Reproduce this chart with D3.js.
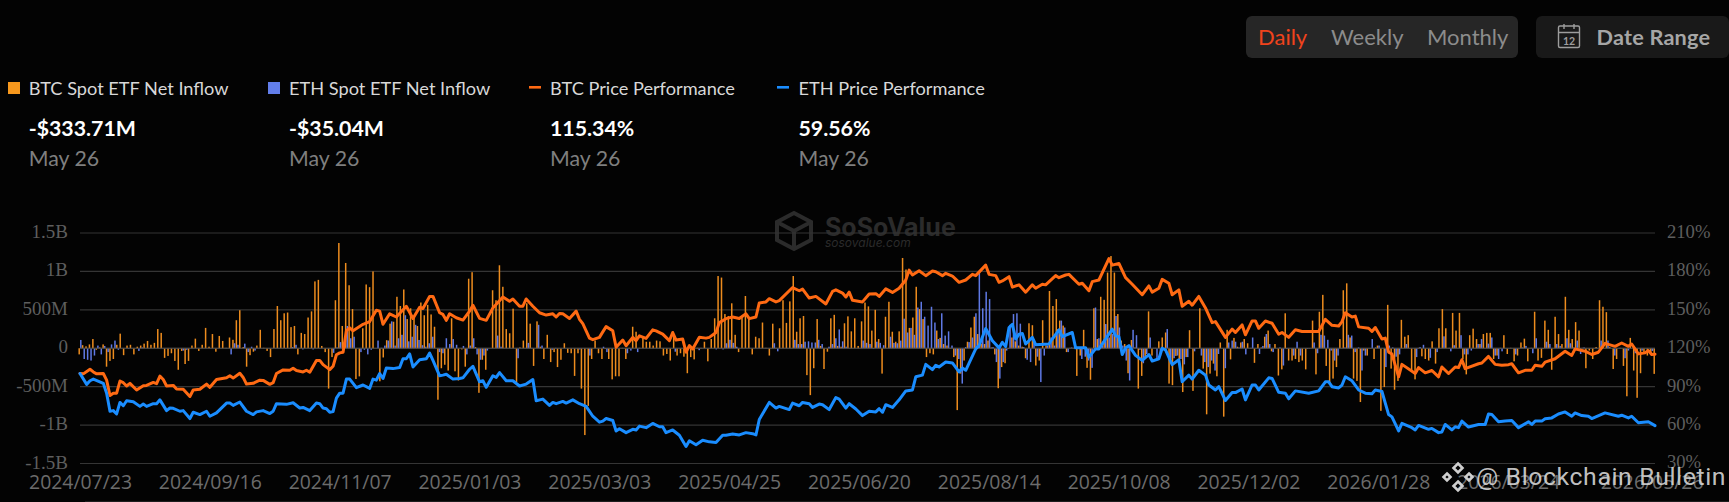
<!DOCTYPE html>
<html><head><meta charset="utf-8">
<script src="https://cdn.jsdelivr.net/npm/d3@7"></script>
<style>html,body{margin:0;padding:0;background:#030303;width:1729px;height:502px;overflow:hidden}svg{display:block}</style>
</head><body><svg id="c" width="1729" height="502"></svg>
<script>
const leftTicks=[-1500,-1000,-500,0,500,1000,1500];
const leftLabels=["-1.5B","-1B","-500M","0","500M","1B","1.5B"];
const rightTicks=[30,60,90,120,150,180,210];
const rightLabels=["30%","60%","90%","120%","150%","180%","210%"];
const dateDays=[0,38,76,114,152,190,228,266,304,342,380,418,460];
const dateLabels=["2024/07/23","2024/09/16","2024/11/07","2025/01/03","2025/03/03","2025/04/25","2025/06/20","2025/08/14","2025/10/08","2025/12/02","2026/01/28","2026/03/24","2026/05/26"];

// BTC spot ETF net inflow, $M, one per trading day
const btcFlow=[
-80,40,25,50,120,-20,10,50,-240,-165,-140,45,190,-90,35,45,-80,20,35,60,95,45,70,250,200,-125,-100,-65,-165,-280,-35,-205,-165,35,125,-35,45,265,20,185,-45,160,95,5,140,110,365,495,15,-240,-90,-45,35,240,5,-35,-115,250,550,365,455,465,275,290,-80,200,185,400,480,870,890,30,-50,-525,-115,625,1370,
290,1110,820,510,-400,-366,260,830,795,1000,0,-430,-120,105,320,345,670,550,765,380,520,415,290,595,430,565,440,280,-670,-260,-215,-290,390,-300,-420,-15,-240,905,990,15,-580,-150,-280,0,755,625,1080,800,250,195,515,-440,10,100,585,320,-230,350,20,-140,175,-180,-50,-245,-150,65,-60,-65,-360,-65,-525,-1130,-750,-140,100,-65,-140,
-10,-140,-405,-365,-365,5,-140,5,280,215,5,150,85,85,35,100,90,-95,-75,-160,175,-95,-65,-110,-325,-115,-145,5,5,85,-170,120,390,940,920,445,420,585,175,-50,415,680,380,-80,150,130,335,5,-95,320,5,260,625,330,610,940,215,390,420,-350,-610,-260,380,30,-270,-45,390,435,30,20,325,415,220,390,30,350,595,
545,230,500,120,-330,410,605,215,85,220,1175,1025,265,400,800,510,380,-115,-65,-80,230,135,55,35,5,-115,-805,-330,-160,85,270,410,185,60,55,100,10,-80,-520,-245,-195,-10,140,90,35,20,-130,325,300,-225,-160,365,35,745,550,640,360,295,-50,5,5,-360,-95,240,-255,-410,520,120,670,630,985,1200,985,445,100,55,-325,
108,10,-525,-360,-115,480,-95,5,90,140,205,-460,-480,-100,-140,-570,-115,235,-555,5,520,-265,-860,-330,-200,-365,75,-890,240,-145,135,20,75,120,65,5,-190,55,10,150,230,-40,55,-355,-275,455,-160,-160,-140,-180,-160,-275,-5,360,-340,475,695,-230,-450,-395,-245,120,755,845,140,-395,-425,-700,-30,-95,-5,-140,35,-815,-505,565,
-265,-540,-425,370,150,170,-290,-405,5,-105,-140,-160,90,-200,260,510,260,5,460,230,460,-140,-340,170,255,120,55,185,200,200,-140,-95,5,170,-75,5,-170,-95,75,125,-170,5,475,-160,-125,360,240,-280,410,185,55,670,240,120,340,230,5,-260,-30,-140,15,625,540,470,15,-270,-140,5,-230,-625,135,-290,-645,-325,-75,-95,-75,-333.71];

// ETH spot ETF net inflow, $M: trading-day number and value, days not listed are about zero
const ethDay=[0,1,2,3,4,5,6,7,8,9,10,11,14,17,18,30,31,44,45,46,48,49,50,51,60,62,63,65,68,74,75,76,78,79,80,82,83,84,85,87,88,89,90,91,92,93,94,95,96,97,98,99,100,101,102,103,105,106,107,108,109,110,112,113,114,115,116,117,118,119,122,123,128,131,132,134,135,138,139,146,149,153,154,160,161,163,174,181,186,188,189,190,191,192,203,204,209,210,211,212,213,214,215,216,217,219,220,221,222,223,224,229,230,231,232,233,234,235,237,238,239,240,241,242,243,244,245,246,247,248,249,250,251,252,253,254,255,256,257,258,259,260,261,262,263,264,265,266,267,268,269,270,271,272,273,274,275,276,277,278,279,280,281,282,283,284,285,286,287,288,289,290,292,293,294,295,296,297,298,299,300,301,302,303,304,305,306,307,308,309,310,311,312,313,314,315,316,318,319,320,321,322,323,324,326,328,329,330,331,332,333,335,336,337,338,339,340,341,343,345,346,347,348,349,351,352,353,355,356,357,359,361,362,363,364,365,366,367,368,370,371,372,373,374,375,376,378,379,380,382,383,384,385,386,388,391,392,393,395,397,399,401,402,404,405,406,407,409,410,412,413,414,415,416,420,422,423,425,426,428,429,430,432,433,435,436,437,438,439,440,445,447,449,452,453,455,457,460];
const ethFlow=[108,-140,-150,-160,-95,35,-80,30,-50,50,100,-20,-8,-35,10,-30,-20,-80,65,45,60,-50,20,-30,-5,15,45,-15,-15,-60,10,80,290,130,150,-50,-20,-80,-20,100,5,35,100,350,35,130,175,430,90,150,305,108,40,20,65,150,-50,-65,130,55,120,45,30,-80,35,130,-80,-150,-95,-30,165,20,-130,70,5,305,35,-20,5,-15,-95,20,-50,-65,-30,-50,-45,-25,-15,-15,65,110,70,20,65,-40,110,55,55,85,90,75,75,110,55,20,55,130,245,90,20,100,70,55,-10,85,70,40,150,70,65,100,385,205,265,175,530,605,410,295,540,335,120,455,165,220,35,-95,-140,-460,15,80,140,455,985,520,735,640,15,-180,-395,-180,-30,305,445,455,320,15,-150,-180,120,-110,-440,-95,35,140,35,250,360,270,-50,10,5,-140,-110,-160,-255,530,130,35,315,140,185,420,270,35,-160,-420,240,170,-20,-195,-75,140,5,-140,-95,250,-140,-130,-95,-140,-210,-115,-40,-95,-180,-245,-160,-290,-75,-260,75,100,85,10,85,-80,140,-75,30,185,55,-50,10,-225,-10,-95,85,-95,-10,75,-65,175,165,110,-30,-160,-95,10,175,165,-50,10,-290,-95,120,10,35,-245,35,10,-110,-80,55,-115,15,45,-125,-50,155,-40,40,170,-80,-80,-30,55,120,60,140,-95,-140,-40,-80,10,30,-65,130,-10,85,55,55,30,130,65,10,100,-75,10,100,100,-95,-130,-30,-65,-30,-35.04];

// Price performance, %, read at turning points on a grid of 474 positions across the plot
const btcPerfAt=[0,1,3,4,5,7,8,9,10,11,12,13,14,15,17,19,20,22,23,24,25,26,28,29,31,33,34,36,38,39,41,44,45,46,48,49,50,52,54,55,57,58,59,61,63,64,65,67,68,69,71,72,73,75,76,77,78,79,80,81,82,85,87,89,90,91,93,95,98,100,102,103,105,106,108,109,110,111,113,115,117,118,120,122,124,127,129,130,132,133,134,136,138,140,142,143,144,145,147,149,150,151,153,154,156,157,158,160,161,163,164,166,167,168,170,172,173,175,177,178,179,181,182,183,184,186,188,189,191,192,194,196,198,200,201,203,204,206,207,209,210,214,216,217,219,221,224,226,227,229,230,231,232,235,237,239,240,242,244,246,248,249,250,252,254,256,257,259,260,262,264,266,268,269,272,273,275,276,277,279,280,282,284,286,287,289,290,293,294,296,297,300,301,303,304,306,309,310,312,314,316,319,321,322,324,325,327,328,330,331,333,334,336,338,340,341,344,346,347,349,350,352,353,354,356,358,360,361,363,365,367,372,374,376,378,379,380,382,383,384,387,388,389,391,392,393,394,396,397,401,402,404,406,408,409,411,413,414,415,416,420,421,423,425,427,429,430,432,434,436,437,439,440,443,446,448,449,452,454,456,458,461,463,465,466,468,470,471,472,473];
const btcPerf=[100.3,100,103.6,101.5,100,100.3,95.1,83.1,84.9,84.9,94.4,93.1,90.5,92.6,87.4,90.8,91,93.3,92.3,98.2,95.6,90.5,91,88.2,88,82.3,87.4,88,92,89.5,95.6,96.9,98.5,96.7,100.5,97.2,92,92.6,95.1,94.9,91.8,93.1,100.3,103.1,102.8,104.4,102.6,101.5,102.8,101.3,110.5,110.5,107.2,103.3,105.9,114.9,116.4,116.9,133.6,135.9,133.6,138.7,140.8,149.7,149,138.7,146.9,144.4,152.8,143.3,152,151,160.5,160.5,147.7,146.4,141.8,146.9,143.8,142,149,153.6,143.3,141.8,151.5,160,156.7,158.5,152.8,152.8,158.5,152.8,147.7,145.9,146.9,144.4,147.2,146.9,143.3,149,142.6,139.2,127.9,126.7,128.5,132.8,136.9,133.6,120.8,126.4,122,128.5,125.9,129.7,127.7,134.4,133.6,131,125.9,132.3,126.4,127.2,116.9,122,119.5,128.5,127.9,128.5,132.3,140,143.1,144.4,143.3,146.9,143.1,144.4,155.4,156.2,158.7,156.2,157.2,167.4,164.9,166.2,159.2,160.5,154.6,164.4,165.6,163.1,160,163.8,157.4,156.2,162.3,162.6,160.5,166.4,163.6,166.9,173.3,181,177.2,180.5,176.7,180.3,179.7,176.7,178.5,176.4,171.5,173.3,177.7,176.7,184.9,177.7,176.7,171.5,172.6,175.9,167.7,169.5,163.8,169.5,166.9,170,169.5,176.7,175.1,177.2,177.7,170,170.8,164.9,172,173.3,190,184.9,186.2,175.1,170,161.8,168.7,163.8,166.9,173.8,170.8,161.8,165.6,152.8,156.7,153.6,160.5,151.5,140,140.8,128.5,134.9,132.3,138.2,130.5,141.3,141.3,135.6,141.3,139.5,131,132.3,128.5,134.4,133.1,133.1,142.6,137.9,137.4,140.8,147.7,144.4,145.1,136.7,135.6,133.1,136.2,127.2,127.9,116.9,115.6,97.7,107.4,100.3,104.9,100.8,102.6,97.7,105.4,100.3,105.4,104.9,111,104.1,107.9,108.5,113.6,107.4,106.7,107.2,107.9,100.8,102.8,102.8,106.7,105.9,109.2,111.8,117.7,114.4,119.5,117.7,115.1,116.9,123.8,121.5,124.1,121.5,123.3,115.6,116.4,118.2,115.1,115.34];
const ethPerfAt=[0,2,3,4,7,8,9,10,11,12,13,14,16,18,19,20,22,23,24,26,27,28,30,31,33,34,36,38,39,41,44,45,46,48,50,52,53,55,57,58,59,62,64,66,67,69,71,72,73,74,75,76,77,78,79,80,81,83,85,87,88,89,90,91,92,94,96,97,98,99,100,102,104,105,106,108,109,110,112,114,115,117,118,120,121,122,124,125,126,128,130,132,134,136,137,139,141,142,143,145,146,148,150,152,154,156,157,158,160,161,162,164,166,167,168,170,172,174,175,176,178,180,182,183,185,187,189,191,193,194,196,198,200,202,203,204,207,209,210,213,214,216,217,219,220,222,223,225,227,228,230,231,233,235,237,239,240,241,242,244,246,248,250,251,253,254,256,257,258,260,262,264,265,266,269,270,272,274,276,277,278,279,280,281,282,283,284,286,287,291,292,294,295,298,299,302,303,305,306,310,311,312,313,314,315,317,319,321,322,324,325,326,328,330,331,333,334,336,338,339,341,342,344,346,347,349,350,352,353,354,357,358,360,362,363,365,369,372,374,375,376,378,379,380,382,384,386,388,389,391,392,393,394,396,397,400,401,402,405,406,408,409,410,412,413,414,415,417,420,422,423,424,426,428,430,432,435,436,437,439,440,442,444,446,448,449,451,453,454,458,462,463,465,466,468,471,473];
const ethPerf=[100.3,91.8,94.6,95.9,92.6,84.9,70.8,71.3,68.7,77.7,75.1,79,78.2,74.6,76.4,74.6,76.7,76.7,79.7,71.3,73.3,73.1,70.8,71.3,65.1,70,68.2,70.8,66.9,69.5,77.2,77.2,75.4,78,70.8,68.2,70.3,71.3,69,70.8,76.7,76.2,77.4,73.3,73.8,71.3,77.2,76.7,73.3,72.8,70,70.5,81,84.9,84.9,95.9,95.9,89.2,91.3,88.7,95.9,95.1,100.3,96.4,104.6,104.1,104.9,111.8,111.8,115.6,105.4,111,111.8,116.2,110.5,98.5,99,99.7,95.9,96.4,96.9,103.6,105.9,93.8,94.6,89.5,98.5,97.2,101,94.6,94.6,90.5,92,95.6,79,80.3,75.4,77.7,76.7,78.5,77.2,79.7,76.7,74.6,66.9,62.3,63.1,65.1,63.6,55.4,57.2,54.1,56.7,56.2,59.2,58,61.3,58.7,58.7,54.1,56.2,52.1,43.3,47.7,44.6,48.2,46.9,46.4,52.1,52.1,53.1,52.3,54.1,53.3,52.3,64.4,77.7,73.3,74.6,72.1,77.2,75.1,77.7,76.7,73.8,76.4,75.9,72.1,81.5,80.3,73.3,76.7,72.6,67.4,70.8,70.3,72.8,70,75.9,73.8,79.7,86.7,87.4,97.7,99,107.4,103.3,106.7,105.4,109.2,108.5,101.5,104.6,102.8,119.5,122,135.4,125.9,120.3,124.6,121.3,136.2,138.7,127.2,131,131.5,123.3,128.5,122.8,123.3,127.2,134.4,129,132.3,120.3,120.3,113.1,119.5,119.5,134.9,129.7,129,115.1,120.3,122,114.4,110.5,115.1,110,111.8,120,118.7,107.2,111,93.8,99,95.9,102.8,99,91.3,87.4,90,79.2,85.4,85.4,88.2,79.7,91.3,91.3,87.4,96.9,96.4,85.6,84.9,80.5,86.7,84.9,86.7,93.8,93.8,90,89,91.3,97.7,94.6,87.4,84.9,84.4,87.4,86.2,77.2,68.2,66.4,55.4,61.3,58,56.2,59.7,56.7,57.4,54.1,54.6,60.5,56.2,58.7,58,63.1,58.5,60.5,60.5,68.7,68.2,62.6,63.1,63.6,58,62.6,60.5,63.1,63.1,64.9,65.6,68.7,70.3,66.9,69.5,67.4,66.9,65.1,69.5,66.9,67.7,65.6,66.9,61.8,62.6,59.56];

const legendNames=["BTC Spot ETF Net Inflow","ETH Spot ETF Net Inflow","BTC Price Performance","ETH Price Performance"];
const legendValues=["-$333.71M","-$35.04M","115.34%","59.56%"];
const legendDates=["May 26","May 26","May 26","May 26"];
const ranges=["Daily","Weekly","Monthly"];

const svg=d3.select("#c");
const C={o:"#ed8c1e",b:"#5f79e4",lo:"#ff6a13",lb:"#1a8dff",grid:"#353535",tick:"#5e5e5e",date:"#6c6c6c"};
const L=80,R=1655,T=233,B=463.5;
const days=d3.range(btcFlow.length);
const x=d3.scalePoint().domain(days).range([L,R]);
const xLine=d3.scaleLinear().domain([0,473]).range([L,R]);
const yL=d3.scaleLinear().domain([-1500,1500]).range([B,T]);
const yR=d3.scaleLinear().domain([30,210]).range([B,T]);

// header controls
const hdr=svg.append("g").style("font-family","Lato");
hdr.append("rect").attr("x",1246).attr("y",16).attr("width",272).attr("height",42).attr("rx",6).attr("fill","#262626");
hdr.append("rect").attr("x",1536).attr("y",16).attr("width",193).attr("height",42).attr("rx",6).attr("fill","#191919");
const rx=[1258,1331,1427];
hdr.selectAll("text.r").data(ranges).join("text").attr("class","r").attr("x",(d,i)=>rx[i]).attr("y",45).attr("font-size",22).attr("fill",(d,i)=>i?"#8c8c8c":"#f0431c").text(d=>d);
const ic=hdr.append("g").attr("stroke","#9d9d9d").attr("stroke-width",1.4).attr("fill","none");
ic.append("rect").attr("x",1558.5).attr("y",26).attr("width",21).attr("height",21.5).attr("rx",1.5);
ic.append("path").attr("d","M1558.5 32.5H1579.5M1564 24V29M1574 24V29");
hdr.append("text").attr("x",1569).attr("y",44.5).attr("text-anchor","middle").attr("font-size",10.5).attr("font-weight",700).attr("fill","#9d9d9d").text("12");
hdr.append("text").attr("x",1596.5).attr("y",45).attr("font-size",21.7).attr("font-weight",700).attr("letter-spacing",".2").attr("fill","#a6a6a6").text("Date Range");

// legend
const lx=[28.7,289,550,798.5];
const leg=svg.append("g").style("font-family","Lato");
leg.append("rect").attr("x",8).attr("y",82).attr("width",12).attr("height",12).attr("fill","#f7981d");
leg.append("rect").attr("x",268).attr("y",82).attr("width",12).attr("height",12).attr("fill","#627eea");
leg.append("rect").attr("x",529).attr("y",86).attr("width",12).attr("height",2.6).attr("fill",C.lo);
leg.append("rect").attr("x",777).attr("y",86).attr("width",12).attr("height",2.6).attr("fill",C.lb);
leg.selectAll("text.n").data(legendNames).join("text").attr("class","n").attr("x",(d,i)=>lx[i]).attr("y",95).attr("font-size",18.2).attr("fill","#d8d8d8").text(d=>d);
leg.selectAll("text.v").data(legendValues).join("text").attr("class","v").attr("x",(d,i)=>lx[i]).attr("y",135.5).attr("font-size",21.3).attr("font-weight",700).attr("fill","#fff").text(d=>d);
leg.selectAll("text.d").data(legendDates).join("text").attr("class","d").attr("x",(d,i)=>lx[i]).attr("y",165.5).attr("font-size",21.3).attr("fill","#7f7f7f").text(d=>d);

// faint SoSoValue mark
const wm=svg.append("g");
wm.append("path").attr("d","M794 213L811 222V240L794 249L777 240V222Z M777 222L794 231L811 222M794 231V249").attr("fill","none").attr("stroke","#2b2b2b").attr("stroke-width",4);
wm.append("text").attr("x",825).attr("y",236).attr("font-family","Inter").attr("font-weight",700).attr("font-size",25).attr("fill","#2b2b2b").text("SoSoValue");
wm.append("text").attr("x",825).attr("y",247).attr("font-family","Inter").attr("font-style","italic").attr("font-size",12).attr("fill","#2b2b2b").text("sosovalue.com");

// grid
svg.append("g").selectAll("line").data(leftTicks).join("line").attr("x1",L).attr("x2",R).attr("y1",d=>yL(d)).attr("y2",d=>yL(d)).attr("stroke",C.grid).attr("stroke-width",1.1);

// axes through d3
function styleAxis(g,font,size,fill){g.select(".domain").remove();g.selectAll(".tick line").remove();g.selectAll("text").attr("font-family",font).attr("font-size",size).attr("fill",fill);}
svg.append("g").attr("transform",`translate(${L},0)`).call(d3.axisLeft(yL).tickValues(leftTicks).tickSize(0).tickPadding(12).tickFormat((d,i)=>leftLabels[i])).call(styleAxis,"Liberation Serif",19,C.tick).selectAll("text").attr("dy","0.24em");
svg.append("g").attr("transform",`translate(${R},0)`).call(d3.axisRight(yR).tickValues(rightTicks).tickSize(0).tickPadding(12).tickFormat((d,i)=>rightLabels[i])).call(styleAxis,"Liberation Serif",18.6,C.tick).selectAll("text").attr("dy","0.24em");
svg.append("g").attr("transform",`translate(0,470)`).call(d3.axisBottom(x).tickValues(dateDays).tickSize(0).tickPadding(5).tickFormat((d,i)=>dateLabels[i])).call(styleAxis,"Open Sans",19.4,C.date);

// bars
const bw=1.5;
svg.append("g").selectAll("rect").data(days).join("rect").attr("x",d=>x(d)-0.8-bw/2).attr("width",bw).attr("y",d=>yL(Math.max(0,btcFlow[d]))).attr("height",d=>Math.abs(yL(btcFlow[d])-yL(0))).attr("fill",C.o);
svg.append("g").selectAll("rect").data(ethDay).join("rect").attr("x",d=>x(d)+0.8-bw/2).attr("width",bw).attr("y",(d,i)=>yL(Math.max(0,ethFlow[i]))).attr("height",(d,i)=>Math.abs(yL(ethFlow[i])-yL(0))).attr("fill",C.b);
svg.append("line").attr("x1",L).attr("x2",R).attr("y1",yL(0)).attr("y2",yL(0)).attr("stroke","#4a4a4a").attr("stroke-width",1.2);

// lines
function drawLine(at,val,color){svg.append("path").datum(d3.range(at.length)).attr("fill","none").attr("stroke",color).attr("stroke-width",3).attr("stroke-linejoin","round").attr("stroke-linecap","round").attr("d",d3.line().x(i=>xLine(at[i])).y(i=>yR(val[i])));}
drawLine(btcPerfAt,btcPerf,C.lo);
drawLine(ethPerfAt,ethPerf,C.lb);

// bottom edge
svg.append("line").attr("x1",85).attr("x2",1729).attr("y1",501.5).attr("y2",501.5).attr("stroke","#1d1d1d");

// Blockchain Bulletin stamp
const st=svg.append("g").attr("fill","none").attr("stroke","#cfcfcf").attr("stroke-width",2.6);
[[1458,468,4.5],[1447,477,3.5],[1469,477,3.5],[1458,486,4.5]].forEach(p=>st.append("path").attr("d",`M${p[0]} ${p[1]-p[2]}L${p[0]+p[2]} ${p[1]}L${p[0]} ${p[1]+p[2]}L${p[0]-p[2]} ${p[1]}Z`));
svg.append("text").attr("x",1476).attr("y",485).attr("font-family","Roboto").attr("font-size",24.8).attr("letter-spacing","0.6").attr("fill","#d9d9d9").attr("fill-opacity",.9).text("@ Blockchain Bulletin");
</script></body></html>
